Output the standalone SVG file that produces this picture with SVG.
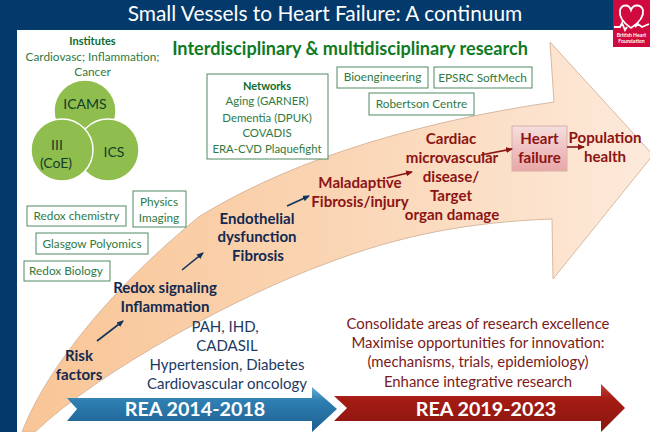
<svg xmlns="http://www.w3.org/2000/svg" width="650" height="432" viewBox="0 0 650 432">
<style>
text{font-family:Lato,"Open Sans","Liberation Sans",sans-serif;text-anchor:middle}
.box{fill:#fff;stroke:#4f8a63;stroke-width:1}
.g{fill:#2f7a3f;font-size:11.8px}
.gs{fill:#2f7a3f;font-size:11.4px}
.gb{fill:#0f6b2a;font-size:11px;font-weight:700}
.n{fill:#12294f;font-size:15px;font-weight:700}
.m{fill:#8c1414;font-size:15.100px;font-weight:700}
.b{fill:#1c3a63;font-size:15px}
.r{fill:#7a1a1a;font-size:14.900px}
.c{fill:#8fbd4e;stroke:#fff;stroke-width:1.5}
.ct{fill:#0f3d2a;font-size:14px}
.ban{fill:#fff;font-size:19.700px;font-weight:700}
.cn{fill:none;stroke-width:1.6}
</style>
<defs>
<linearGradient id="peach" x1="0" y1="0" x2="1" y2="0"><stop offset="0" stop-color="#f9c596"/><stop offset=".5" stop-color="#fad5b4"/><stop offset="1" stop-color="#fdeadb"/></linearGradient>
<linearGradient id="blue" x1="0" y1="0" x2="0" y2="1"><stop offset="0" stop-color="#69aed6"/><stop offset=".3" stop-color="#2f7fb3"/><stop offset="1" stop-color="#1c5f8f"/></linearGradient>
<linearGradient id="red" x1="0" y1="0" x2="0" y2="1"><stop offset="0" stop-color="#c0453a"/><stop offset=".3" stop-color="#a51c14"/><stop offset="1" stop-color="#8a1610"/></linearGradient>
<linearGradient id="pink" x1="0" y1="0" x2="0" y2="1"><stop offset="0" stop-color="#f6dede"/><stop offset="1" stop-color="#e8a6a6"/></linearGradient>
<marker id="ad" markerWidth="7" markerHeight="6" refX="6" refY="3" orient="auto" markerUnits="userSpaceOnUse"><path d="M0 0L7 3L0 6Z" fill="#12345c"/></marker>
<marker id="ar" markerWidth="7" markerHeight="6" refX="6" refY="3" orient="auto" markerUnits="userSpaceOnUse"><path d="M0 0L7 3L0 6Z" fill="#8c1414"/></marker>
</defs>
<rect width="650" height="432" fill="#fff"/>
<path d="M0 0H650V30H17V432H0Z" fill="#033a6b"/>
<text x="325" y="21" fill="#fff" font-size="20.900" id="title">Small Vessels to Heart Failure: A continuum</text>
<g id="bhf-logo"><rect x="613" y="0" width="37" height="47" fill="#d0093e"/>
<path d="M631 28C622 22 619 16 620 10C622 4 629 4 631 10C633 4 641 4 643 10C644 16 640 22 631 28M614 27H620L622 23L625 30L627 27M635 27L638 24L642 27L649 24" fill="none" stroke="#fff" stroke-width="1.8"/>
<text x="631.500" y="37" fill="#fff" font-size="5.200" font-weight="700">British Heart</text><text x="631.500" y="43" fill="#fff" font-size="5.200" font-weight="700">Foundation</text></g>
<g id="continuum-arrow"><path d="M22 432C48 365 115 285 200 216C300 155 430 120 554 102L550 42L653 155L553 279L552 219C470 222 400 235 325 264C240 295 100 370 35 432Z" fill="url(#peach)" stroke="#d8b9a0" stroke-width="1"/></g>
<g id="heading"><text x="350" y="55" fill="#0f7a1f" font-size="18.100" font-weight="700">Interdisciplinary &amp; multidisciplinary research</text></g>
<g id="institutes"><text class="gb" x="92.500" y="45">Institutes</text><text class="g" x="92.500" y="61">Cardiovasc; Inflammation;</text><text class="g" x="92.500" y="76">Cancer</text></g>
<g id="icams"><circle class="c" cx="85" cy="111" r="31"/><text class="ct" x="85" y="109">ICAMS</text></g>
<g id="ics"><circle class="c" cx="108" cy="150" r="31"/><text class="ct" x="114" y="157">ICS</text></g>
<g id="iii"><circle class="c" cx="62" cy="150" r="31"/><text class="ct" x="57" y="150">III</text><text class="ct" x="56" y="168">(CoE)</text></g>
<g id="networks"><rect class="box" x="207" y="74" width="121" height="85"/><text class="gb" x="267" y="90">Networks</text><text class="gs" x="267" y="105">Aging (GARNER)</text><text class="gs" x="267" y="122">Dementia (DPUK)</text><text class="gs" x="267" y="137">COVADIS</text><text class="gs" x="267" y="153">ERA-CVD Plaquefight</text></g>
<g id="bioengineering"><rect class="box" x="337" y="67" width="91" height="21"/><text class="g" x="382.500" y="81">Bioengineering</text></g>
<g id="epsrc"><rect class="box" x="434" y="67" width="98" height="21"/><text class="g" x="482.500" y="82">EPSRC SoftMech</text></g>
<g id="robertson"><rect class="box" x="369" y="93" width="105" height="22"/><text class="g" x="421.500" y="108">Robertson Centre</text></g>
<g id="physics"><rect class="box" x="133" y="191" width="53" height="36"/><text class="g" x="159" y="206">Physics</text><text class="g" x="159" y="222">Imaging</text></g>
<g id="redox-chem"><rect class="box" x="27" y="206" width="99" height="20"/><text class="g" x="76.500" y="220">Redox chemistry</text></g>
<g id="polyomics"><rect class="box" x="36" y="233" width="112" height="21"/><text class="g" x="92" y="248">Glasgow Polyomics</text></g>
<g id="redox-bio"><rect class="box" x="24" y="261" width="86" height="20"/><text class="g" x="66" y="275">Redox Biology</text></g>
<g id="risk"><text class="n" x="79" y="361">Risk</text><text class="n" x="79" y="380">factors</text></g>
<g id="redox-sig"><text class="n" x="165" y="293">Redox signaling</text><text class="n" x="165" y="312">Inflammation</text></g>
<g id="endothelial"><text class="n" x="257" y="224">Endothelial</text><text class="n" x="257" y="242">dysfunction</text><text class="n" x="258" y="261">Fibrosis</text></g>
<g id="maladaptive"><text class="m" x="360" y="188">Maladaptive</text><text class="m" x="360" y="207">Fibrosis/injury</text></g>
<g id="cardiac"><text class="m" x="451" y="144">Cardiac</text><text class="m" x="452" y="163">microvascular</text><text class="m" x="451" y="182">disease/</text><text class="m" x="451" y="201">Target</text><text class="m" x="452" y="220">organ damage</text></g>
<g id="heart-failure"><rect x="512" y="126" width="55" height="45" fill="url(#pink)" stroke="#d9b0a8" stroke-width="1"/><text class="m" x="539.500" y="144">Heart</text><text class="m" x="539.500" y="163">failure</text></g>
<g id="population"><text class="m" x="605" y="143">Population</text><text class="m" x="605" y="162">health</text></g>
<g id="diseases"><text class="b" x="225" y="332">PAH, IHD,</text><text class="b" x="227" y="351">CADASIL</text><text class="b" x="227" y="370">Hypertension, Diabetes</text><text class="b" x="227" y="389">Cardiovascular oncology</text></g>
<g id="aims"><text class="r" x="478" y="329">Consolidate areas of research excellence</text><text class="r" x="478" y="348">Maximise opportunities for innovation:</text><text class="r" x="478" y="367">(mechanisms, trials, epidemiology)</text><text class="r" x="478" y="387">Enhance integrative research</text></g>
<g id="rea-2014"><path d="M67 398H312V387L337 409L312 432V421H67L77 409Z" fill="url(#blue)"/><text class="ban" x="195" y="416">REA 2014-2018</text></g>
<g id="rea-2019"><path d="M334 396H601V384L625 408L601 432V421H334L347 408Z" fill="url(#red)"/><text class="ban" x="486" y="416">REA 2019-2023</text></g>
<g id="connectors"><path class="cn" stroke="#12345c" marker-end="url(#ad)" d="M97 341L123 321"/><path class="cn" stroke="#12345c" marker-end="url(#ad)" d="M182 270L203 253"/><path class="cn" stroke="#12345c" marker-end="url(#ad)" d="M287 206L309 196"/><path class="cn" stroke="#8c1414" marker-end="url(#ar)" d="M387 178L412 172"/><path class="cn" stroke="#8c1414" marker-end="url(#ar)" d="M481 155L512 149"/><path class="cn" stroke="#8c1414" marker-end="url(#ar)" d="M567 147L584 147"/></g>
</svg>
